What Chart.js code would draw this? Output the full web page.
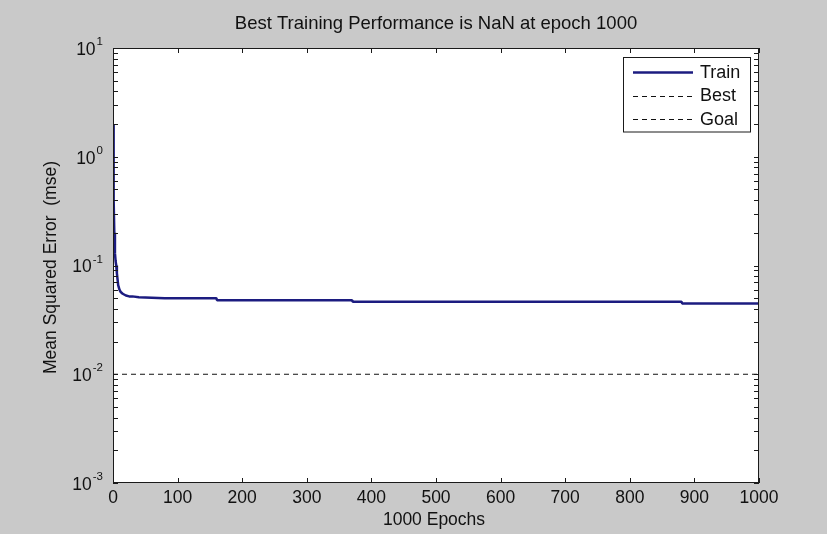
<!DOCTYPE html>
<html>
<head>
<meta charset="utf-8">
<script src="https://cdn.jsdelivr.net/npm/chart.js@4/dist/chart.umd.min.js"></script>
<style>
  html, body { margin: 0; padding: 0; background: #c9c9c9; }
  #wrap { width: 827px; height: 534px; }
</style>
</head>
<body>
<div id="wrap"><canvas id="perf" width="827" height="534"></canvas></div>
<script>
// ---- Data ----
const epochs   = [0, 1, 2, 3, 4, 5, 6, 7, 8, 10, 12, 15, 20, 25, 30, 40, 60, 80, 160, 161, 370, 371, 880, 881, 1000];
const trainMse = [2.0, 0.4, 0.2, 0.13, 0.11, 0.1, 0.085, 0.075, 0.066, 0.06, 0.057, 0.055, 0.053, 0.052, 0.052, 0.051, 0.0505, 0.05, 0.05, 0.048, 0.048, 0.0465, 0.0465, 0.0448, 0.0448];
const goalEpochs = [0, 1000];
const goalMse    = [0.01, 0.01];
const bestEpochs = [1000];
const bestMse    = [NaN];

const xTicks   = [0, 100, 200, 300, 400, 500, 600, 700, 800, 900, 1000];
const yDecades = [-3, -2, -1, 0, 1];

const titleText = "Best Training Performance is NaN at epoch 1000";
const xLabel = "1000 Epochs";
const yLabel = "Mean Squared Error  (mse)";

const FONT = '"Liberation Sans", Arial, Helvetica, sans-serif';
const pts = (xs, ys) => xs.map((x, i) => ({ x, y: ys[i] }));

// ---- MATLAB-like axes box, ticks, labels, legend ----
const matlabAxes = {
  id: "matlabAxes",
  beforeDraw(chart) {
    const { ctx, chartArea: a } = chart;
    ctx.save();
    ctx.fillStyle = "#c9c9c9";
    ctx.fillRect(0, 0, chart.width, chart.height);
    ctx.fillStyle = "#ffffff";
    ctx.fillRect(a.left, a.top, a.right - a.left, a.bottom - a.top);
    ctx.restore();
  },
  afterDraw(chart) {
    const { ctx, chartArea: a } = chart;
    const xs = chart.scales.x, ys = chart.scales.y;
    const tl = 5;
    ctx.save();
    ctx.strokeStyle = "#1a1a1a";
    ctx.lineWidth = 1;
    ctx.strokeRect(a.left + 0.5, a.top + 0.5, a.right - a.left - 1, a.bottom - a.top - 1);

    // x ticks, inward on bottom and top
    ctx.beginPath();
    xTicks.forEach(v => {
      const px = Math.round(xs.getPixelForValue(v)) + 0.5;
      ctx.moveTo(px, a.bottom); ctx.lineTo(px, a.bottom - tl);
      ctx.moveTo(px, a.top); ctx.lineTo(px, a.top + tl);
    });
    // y ticks (decades + minor), inward on left and right
    yDecades.forEach(d => {
      for (let m = 1; m <= 9; m++) {
        if (d === yDecades[yDecades.length - 1] && m > 1) break;
        const py = Math.round(ys.getPixelForValue(m * Math.pow(10, d))) + 0.5;
        ctx.moveTo(a.left, py); ctx.lineTo(a.left + tl, py);
        ctx.moveTo(a.right, py); ctx.lineTo(a.right - tl, py);
      }
    });
    ctx.stroke();

    ctx.fillStyle = "#111111";
    // x tick labels
    ctx.font = "17.5px " + FONT;
    ctx.textAlign = "center";
    ctx.textBaseline = "middle";
    xTicks.forEach(v => ctx.fillText(String(v), xs.getPixelForValue(v), a.bottom + 15));

    // y tick labels 10^n
    yDecades.forEach(d => {
      const py = ys.getPixelForValue(Math.pow(10, d));
      const sup = String(d);
      ctx.font = "11.5px " + FONT;
      const sw = ctx.measureText(sup).width;
      const right = a.left - 10;
      ctx.textAlign = "right";
      ctx.textBaseline = "middle";
      ctx.fillText(sup, right, py - 6);
      ctx.font = "17.5px " + FONT;
      ctx.fillText("10", right - sw - 1, py + 2);
    });

    // axis titles
    ctx.font = "17.5px " + FONT;
    ctx.textAlign = "center";
    ctx.textBaseline = "middle";
    ctx.fillText(xLabel, (a.left + a.right) / 2 - 2, a.bottom + 37);
    ctx.save();
    ctx.translate(51, (a.top + a.bottom) / 2 + 2);
    ctx.rotate(-Math.PI / 2);
    ctx.fillText(yLabel, 0, 0);
    ctx.restore();

    // title
    ctx.font = "18.5px " + FONT;
    ctx.fillText(titleText, (a.left + a.right) / 2, 24);

    // legend box inside the axes
    const bx = 623, by = a.top + 9, bw = a.right - 8 - bx, rowH = 23.5;
    const bh = rowH * chart.data.datasets.length + 5;
    ctx.fillStyle = "#ffffff";
    ctx.fillRect(bx, by, bw, bh);
    ctx.strokeStyle = "#1a1a1a";
    ctx.lineWidth = 1;
    ctx.strokeRect(bx + 0.5, by + 0.5, bw - 1, bh - 1);
    chart.data.datasets.forEach((ds, i) => {
      const cy = by + 15 + i * rowH;
      ctx.beginPath();
      ctx.strokeStyle = ds.borderColor;
      ctx.lineWidth = ds.borderWidth;
      ctx.setLineDash(ds.borderDash || []);
      ctx.moveTo(bx + 10, Math.round(cy) + 0.5);
      ctx.lineTo(bx + 70, Math.round(cy) + 0.5);
      ctx.stroke();
      ctx.setLineDash([]);
      ctx.fillStyle = "#111111";
      ctx.font = "18px " + FONT;
      ctx.textAlign = "left";
      ctx.fillText(ds.label, bx + 77, cy + 1);
    });
    ctx.restore();
  }
};

new Chart(document.getElementById("perf"), {
  type: "line",
  data: {
    datasets: [
      { label: "Train", data: pts(epochs, trainMse), borderColor: "#1c1c80", borderWidth: 2.5, borderJoinStyle: "bevel", pointRadius: 0, tension: 0, fill: false },
      { label: "Best", data: pts(bestEpochs, bestMse), borderColor: "#111111", borderWidth: 1, borderDash: [5, 4], pointRadius: 0, fill: false },
      { label: "Goal", data: pts(goalEpochs, goalMse), borderColor: "#111111", borderWidth: 1, borderDash: [5, 4], pointRadius: 0, fill: false }
    ]
  },
  options: {
    responsive: false,
    animation: false,
    devicePixelRatio: 1,
    layout: { padding: { left: 113, right: 68, top: 48, bottom: 51 } },
    plugins: { legend: { display: false }, title: { display: false }, tooltip: { enabled: false } },
    scales: {
      x: { type: "linear", min: 0, max: 1000, display: false },
      y: { type: "logarithmic", min: 0.001, max: 10, display: false }
    }
  },
  plugins: [matlabAxes]
});
</script>
</body>
</html>
